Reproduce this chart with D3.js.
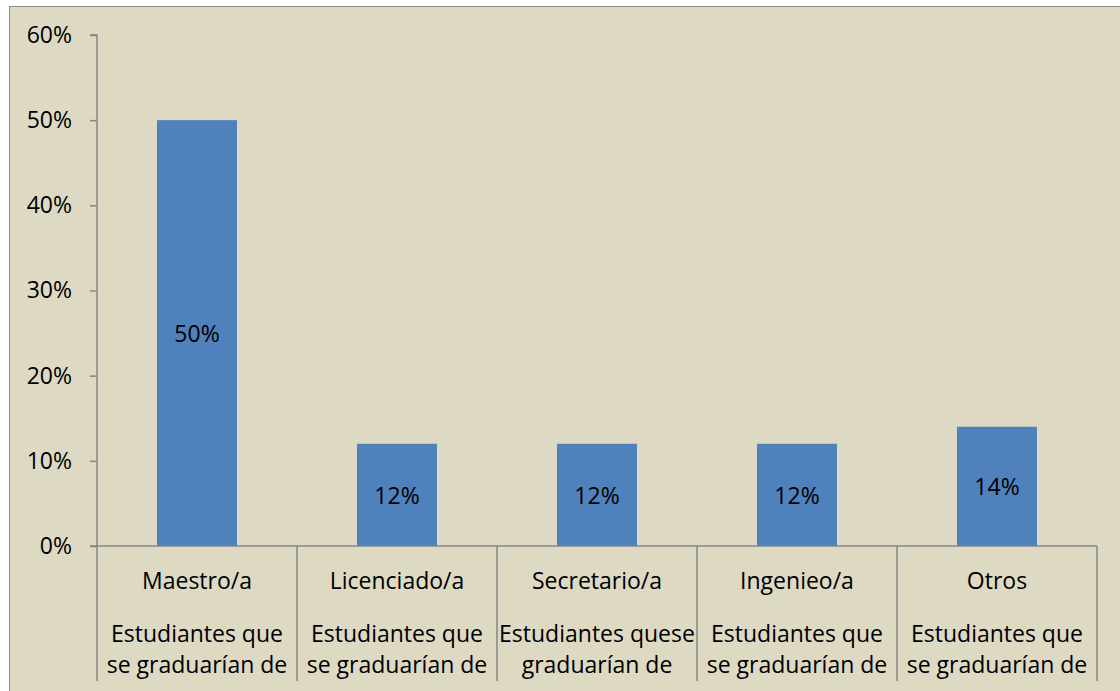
<!DOCTYPE html>
<html>
<head>
<meta charset="utf-8">
<script src="https://cdn.jsdelivr.net/npm/d3@7"></script>
<style>
  body { margin: 0; background: #fff; }
  text { font-family: "Open Sans", sans-serif; fill: #000; }
</style>
</head>
<body>
<script>
// data
const categories = ['Maestro/a', 'Licenciado/a', 'Secretario/a', 'Ingenieo/a', 'Otros'];
const subLabels = [
  ['Estudiantes que', 'se graduarían de'],
  ['Estudiantes que', 'se graduarían de'],
  ['Estudiantes quese', 'graduarían de'],
  ['Estudiantes que', 'se graduarían de'],
  ['Estudiantes que', 'se graduarían de']
];
const values = [0.50, 0.12, 0.12, 0.12, 0.14];
const yTicks = [0, 0.1, 0.2, 0.3, 0.4, 0.5, 0.6];

const w = 1120, h = 691;
const mLeft = 97, mRight = 1097, mTop = 35, mBottom = 546;
const fs = '23px';

const svg = d3.select('body')
  .append('svg')
  .attr('width', w)
  .attr('height', h);

// chart area background + border
svg.append('rect')
  .attr('x', 9.5).attr('y', 6.5)
  .attr('width', w).attr('height', h)
  .attr('fill', '#DDD9C3')
  .attr('stroke', '#8C8C8C')
  .attr('stroke-width', 1);

const x = d3.scaleBand()
  .domain(categories)
  .range([mLeft, mRight])
  .paddingInner(0.6)
  .paddingOuter(0.3);

const y = d3.scaleLinear()
  .domain([0, 0.6])
  .range([mBottom, mTop]);

// bars
svg.selectAll('rect.bar')
  .data(values)
  .enter()
  .append('rect')
  .attr('class', 'bar')
  .attr('x', (d, i) => x(categories[i]))
  .attr('y', d => y(d))
  .attr('width', x.bandwidth())
  .attr('height', d => y(0) - y(d))
  .attr('fill', '#4F81BD');

// data labels, centred in bar
svg.selectAll('text.val')
  .data(values)
  .enter()
  .append('text')
  .attr('class', 'val')
  .attr('x', (d, i) => x(categories[i]) + x.bandwidth() / 2)
  .attr('y', d => (y(d) + y(0)) / 2)
  .attr('text-anchor', 'middle')
  .attr('dominant-baseline', 'central')
  .style('font-size', fs)
  .text(d => d3.format('.0%')(d));

// y axis
const yAxis = svg.append('g')
  .attr('transform', `translate(${mLeft},0)`)
  .call(d3.axisLeft(y).tickValues(yTicks).tickFormat(d3.format('.0%')).tickSize(7).tickPadding(18));
yAxis.select('.domain').attr('stroke', '#868686').attr('stroke-width', 1.5).attr('d', `M-7,${mTop}H0V${mBottom}`);
yAxis.selectAll('.tick line').attr('stroke', '#868686').attr('stroke-width', 1.5);
yAxis.selectAll('.tick text').style('font-size', fs).style('font-family', '"Open Sans", sans-serif').attr('fill', '#000');

// category axis (multi-level)
const xEdges = d3.range(categories.length + 1).map(i => mLeft + i * (mRight - mLeft) / categories.length);
svg.append('line')
  .attr('x1', mLeft - 7).attr('x2', mRight)
  .attr('y1', mBottom).attr('y2', mBottom)
  .attr('stroke', '#868686').attr('stroke-width', 1.5);
svg.selectAll('line.sep')
  .data(xEdges)
  .enter()
  .append('line')
  .attr('class', 'sep')
  .attr('x1', d => d).attr('x2', d => d)
  .attr('y1', mBottom).attr('y2', 681)
  .attr('stroke', '#868686').attr('stroke-width', 1.5);

const cx = i => x(categories[i]) + x.bandwidth() / 2;

svg.selectAll('text.cat')
  .data(categories)
  .enter()
  .append('text')
  .attr('class', 'cat')
  .attr('x', (d, i) => cx(i))
  .attr('y', 580)
  .attr('text-anchor', 'middle')
  .attr('dominant-baseline', 'central')
  .style('font-size', fs)
  .text(d => d);

subLabels.forEach((lines, i) => {
  lines.forEach((line, j) => {
    svg.append('text')
      .attr('x', cx(i))
      .attr('y', 633 + j * 31)
      .attr('text-anchor', 'middle')
      .attr('dominant-baseline', 'central')
      .style('font-size', fs)
      .text(line);
  });
});
</script>
</body>
</html>
